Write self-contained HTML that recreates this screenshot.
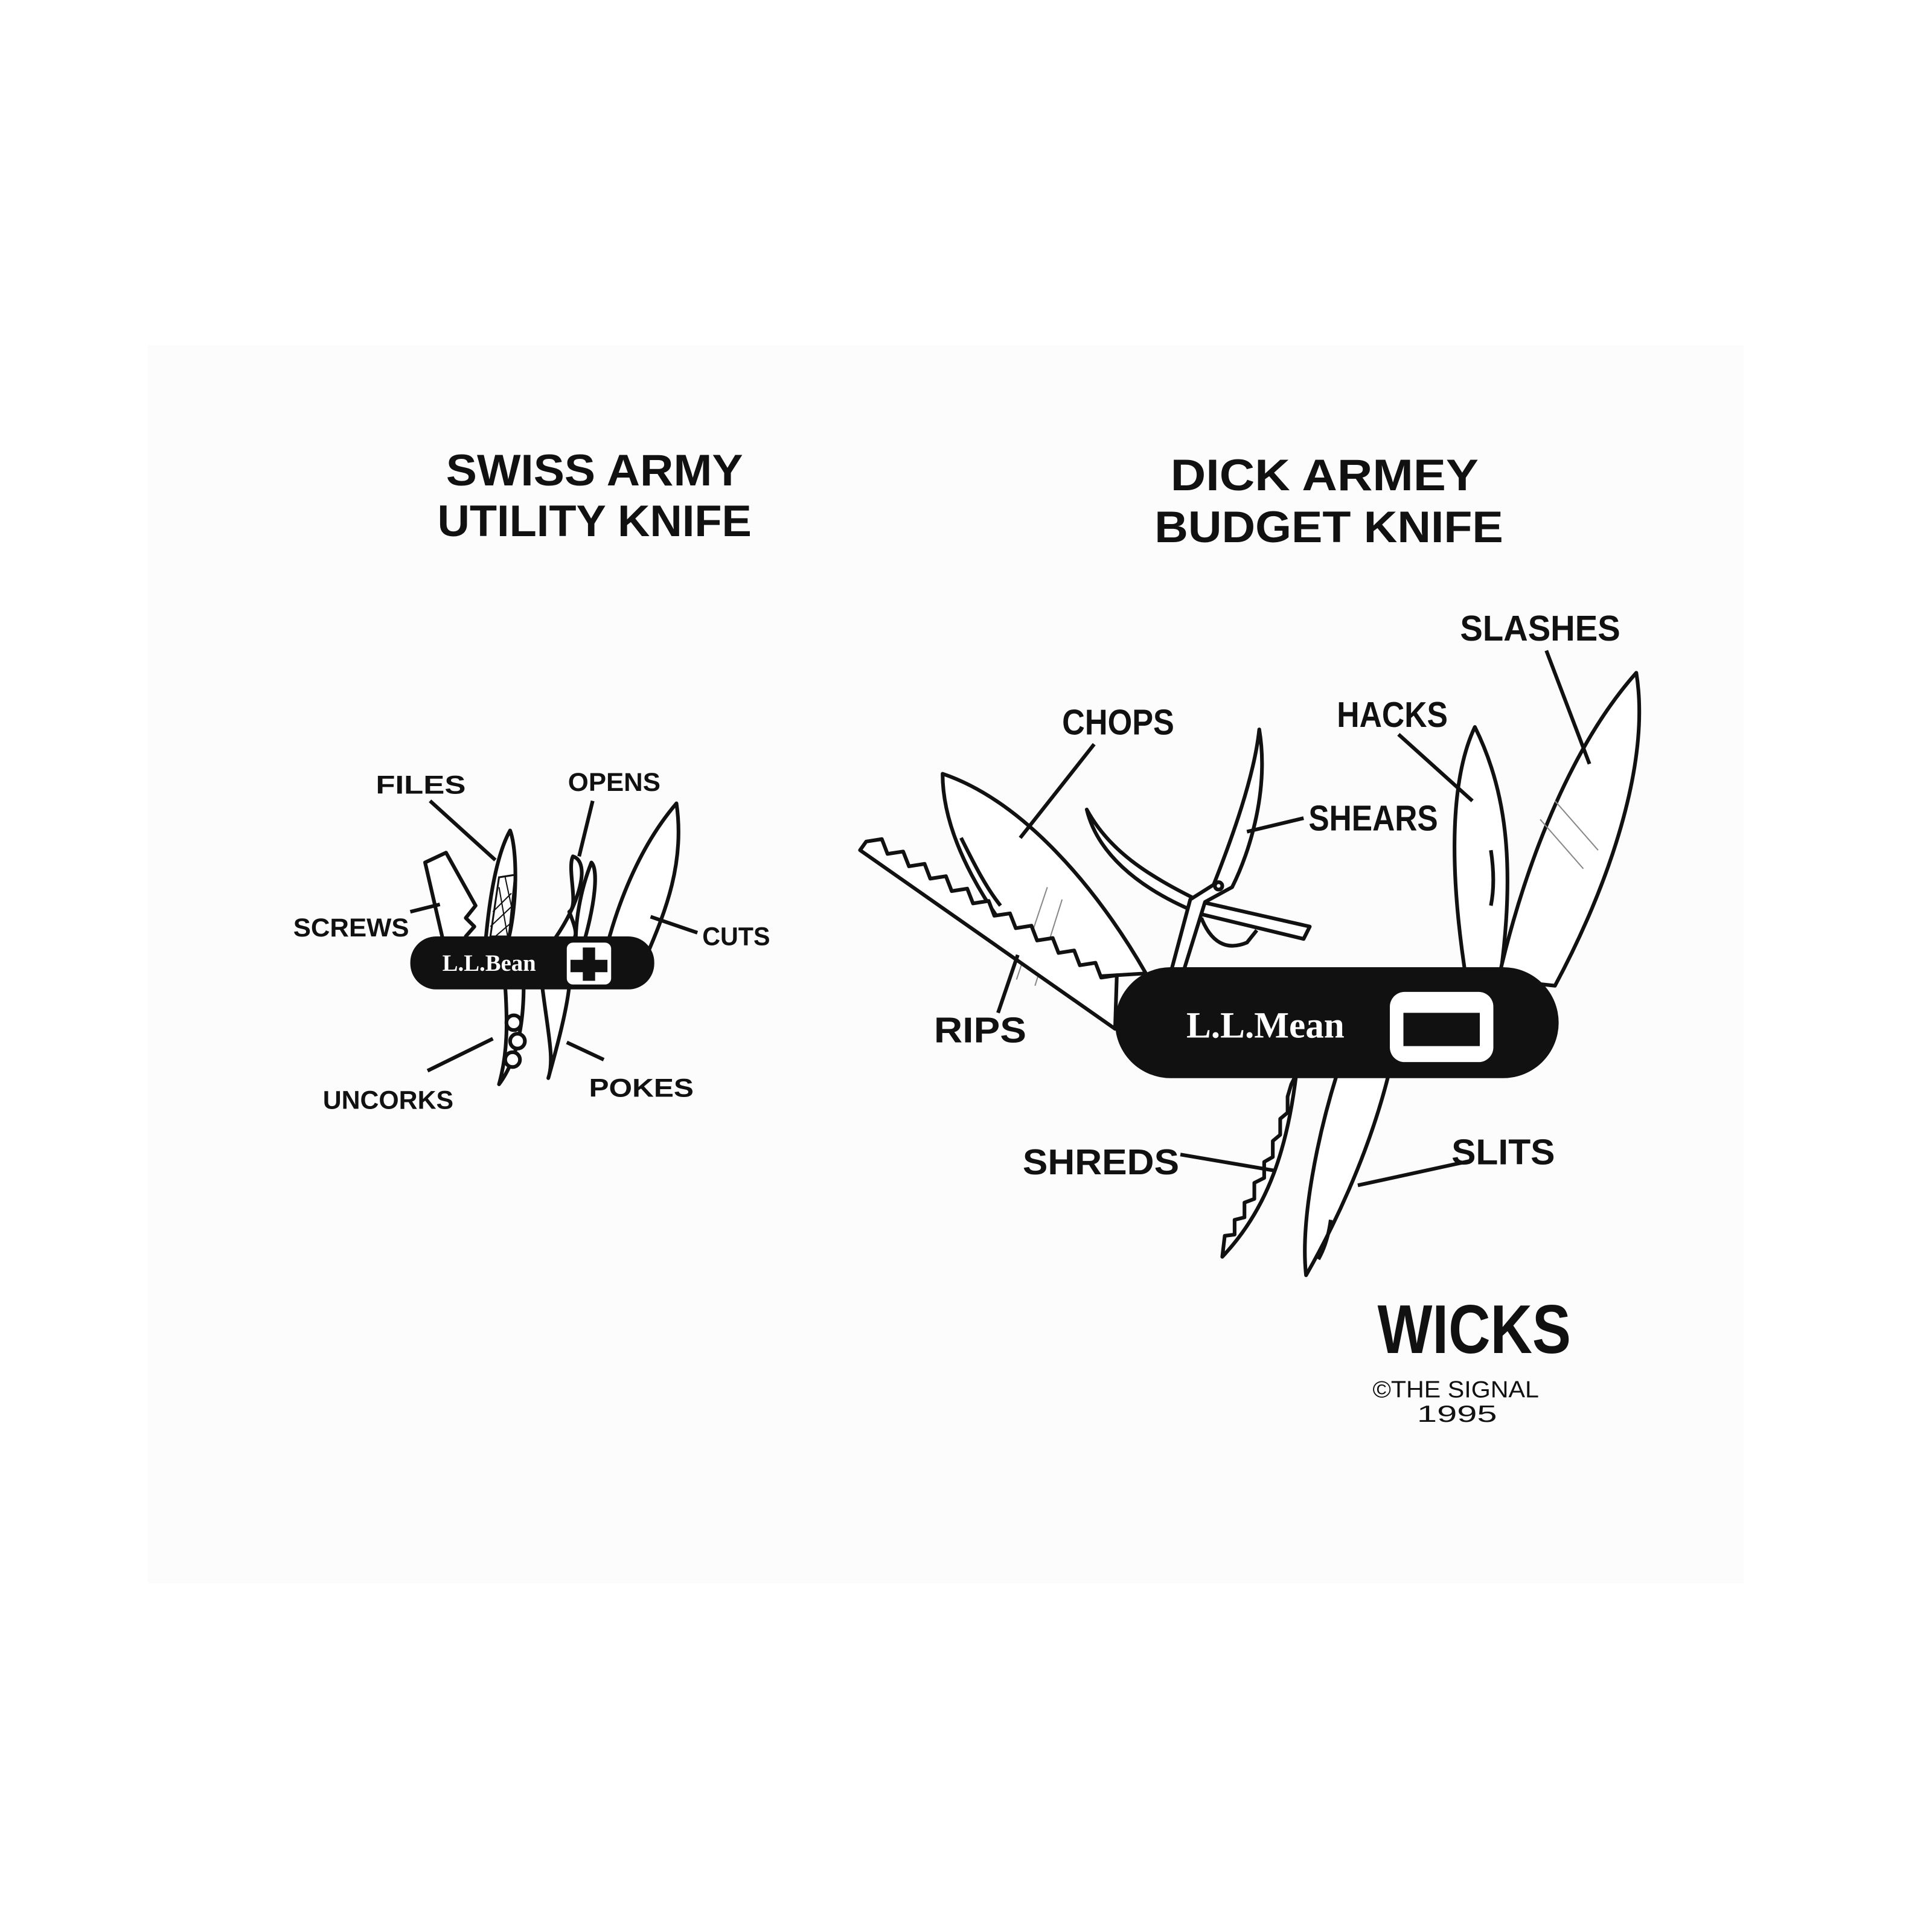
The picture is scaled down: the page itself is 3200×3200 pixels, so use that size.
<!DOCTYPE html>
<html><head><meta charset="utf-8"><style>
html,body{margin:0;padding:0;background:#fff}
svg{display:block}
.t{font-family:"Liberation Sans",sans-serif;font-weight:bold;fill:#111}
.s{fill:#fff;stroke:#111;stroke-width:3;stroke-linejoin:round}
.l{fill:none;stroke:#111;stroke-width:3}
</style></head><body>
<svg width="3200" height="3200" viewBox="0 0 1568 1568" xmlns="http://www.w3.org/2000/svg">
<rect x="0" y="0" width="1568" height="1568" fill="#fff"/>
<rect x="120" y="280" width="1295" height="1005" fill="#fcfcfc"/>
<!-- titles -->
<text class="t" x="362" y="394" font-size="36" textLength="241" lengthAdjust="spacingAndGlyphs">SWISS ARMY</text>
<text class="t" x="355" y="435" font-size="36" textLength="255" lengthAdjust="spacingAndGlyphs">UTILITY KNIFE</text>
<text class="t" x="950" y="398" font-size="36" textLength="250" lengthAdjust="spacingAndGlyphs">DICK ARMEY</text>
<text class="t" x="937" y="440" font-size="36" textLength="283" lengthAdjust="spacingAndGlyphs">BUDGET KNIFE</text>

<!-- SMALL KNIFE -->
<path class="s" d="M360,765 L345,700 L362,692 L386,735 L378,745 L385,752 L378,760 L380,765 Z"/>
<path class="s" d="M394,765 C398,720 405,690 414,674 C420,690 420,735 412,765 Z"/>
<path d="M398,760 L405,712 L418,710 L413,760 Z" fill="none" stroke="#111" stroke-width="1.5"/>
<path d="M400,740 L415,725 M398,752 L416,735 M402,760 L416,748 M405,720 L412,760 M410,712 L416,740" stroke="#111" stroke-width="1"/>
<path class="s" d="M448,765 C470,735 480,700 465,695 C460,705 470,735 462,740 C470,760 470,765 452,765 Z"/>
<path class="s" d="M492,770 C505,720 525,680 549,652 C556,700 540,740 525,775 Z"/>
<path class="s" d="M470,778 C485,730 485,705 480,700 C472,720 465,750 468,778 Z"/>
<path class="s" d="M440,800 C445,840 450,860 445,875 C452,850 460,820 462,800 Z"/>
<path class="s" d="M410,800 C412,830 412,855 405,880 C420,860 425,830 425,800 Z"/>
<circle cx="417" cy="830" r="6" class="s" stroke-width="2.5"/>
<circle cx="420" cy="845" r="6" class="s" stroke-width="2.5"/>
<circle cx="416" cy="860" r="6" class="s" stroke-width="2.5"/>
<rect x="333" y="760" width="198" height="43" rx="21" fill="#111"/>
<text x="397" y="788" font-family="Liberation Serif,serif" font-weight="bold" font-size="19" fill="#fff" text-anchor="middle">L.L.Bean</text>
<rect x="460" y="765" width="36" height="34" rx="5" fill="#fff"/>
<path d="M473,769 h10 v10 h10 v10 h-10 v7 h-10 v-7 h-10 v-10 h10 z" fill="#111"/>
<text class="t" x="305" y="644" font-size="21" textLength="73" lengthAdjust="spacingAndGlyphs">FILES</text>
<path class="l" d="M349,650 L402,698"/>
<text class="t" x="461" y="642" font-size="21" textLength="75" lengthAdjust="spacingAndGlyphs">OPENS</text>
<path class="l" d="M481,650 L470,695"/>
<text class="t" x="238" y="760" font-size="21" textLength="94" lengthAdjust="spacingAndGlyphs">SCREWS</text>
<path class="l" d="M333,740 L357,734"/>
<text class="t" x="570" y="767" font-size="21" textLength="55" lengthAdjust="spacingAndGlyphs">CUTS</text>
<path class="l" d="M528,744 L566,757"/>
<text class="t" x="262" y="900" font-size="21" textLength="106" lengthAdjust="spacingAndGlyphs">UNCORKS</text>
<path class="l" d="M347,869 L400,843"/>
<text class="t" x="478" y="890" font-size="21" textLength="85" lengthAdjust="spacingAndGlyphs">POKES</text>
<path class="l" d="M460,846 L490,860"/>

<!-- BIG KNIFE -->
<path class="s" d="M930,790 C890,720 830,650 765,628 C765,680 800,740 850,795 Z"/>
<path d="M780,680 C790,700 800,720 812,735" class="l" stroke-width="2"/>
<path d="M825,795 L850,720 M840,800 L862,730" stroke="#888" stroke-width="1"/>
<!-- saw -->
<path class="s" d="M905,835 L698,690 L703,683 L715.7,681 L720.3,693 L733,691.1 L737.7,703.1 L750.4,701.1 L755,713.1 L767.7,711.1 L772.4,723.2 L785,721.2 L789.7,733.2 L802.4,731.2 L807,743.2 L819.7,741.3 L824.4,753.3 L837.1,751.3 L841.7,763.3 L854.4,761.3 L859.1,773.4 L871.8,771.4 L876.4,783.4 L889.1,781.4 L893.7,793.4 L906.4,791.5 Z"/>
<!-- shears -->
<path class="s" d="M882,657 C900,690 930,710 975,732 L1063,752 L1058,762 L975,742 C920,720 890,690 882,657 Z"/>
<path class="s" d="M950,790 L966,730 L985,718 C1000,680 1018,630 1022,592 C1030,640 1015,690 1000,720 L978,732 L960,790 Z"/>
<path class="l" d="M975,745 C985,770 1000,770 1012,765 L1020,755" stroke-width="2.5"/>
<circle cx="989" cy="719" r="3" class="s" stroke-width="1.5"/>
<!-- hacks -->
<path class="s" d="M1190,795 C1175,700 1178,630 1197,590 C1222,640 1230,700 1218,790 Z"/>
<path class="l" d="M1210,690 C1213,710 1212,725 1210,735" stroke-width="2"/>
<!-- slashes -->
<path class="s" d="M1216,795 C1240,690 1280,600 1328,546 C1340,620 1305,720 1262,800 Z"/>
<path d="M1250,665 L1285,705 M1262,650 L1297,690" stroke="#888" stroke-width="1"/>
<!-- shreds -->
<path class="s" d="M1052,872 C1045,930 1030,980 992,1020 L994,1003 L1002,1002 L1002,990 L1010,988 L1010,976 L1018,973 L1018,960 L1026,956 L1026,943 L1033,939 L1033,926 L1039,921 L1039,908 L1045,903 L1045,890 L1048,880 Z"/>
<!-- slits -->
<path class="s" d="M1085,872 C1070,920 1055,990 1060,1035 C1080,1000 1110,940 1127,872 Z"/>
<path class="l" d="M1080,990 C1078,1005 1074,1015 1070,1022" stroke-width="2"/>
<!-- handle -->
<rect x="905" y="785" width="360" height="90" rx="45" fill="#111"/>
<text x="1027" y="842" font-family="Liberation Serif,serif" font-weight="bold" font-size="30" fill="#fff" text-anchor="middle">L.L.Mean</text>
<rect x="1128" y="805" width="84" height="57" rx="12" fill="#fff"/>
<rect x="1139" y="822" width="62" height="27" fill="#111"/>
<!-- labels -->
<text class="t" x="862" y="596" font-size="29" textLength="91" lengthAdjust="spacingAndGlyphs">CHOPS</text>
<path class="l" d="M888,604 L828,680"/>
<text class="t" x="1085" y="590" font-size="29" textLength="90" lengthAdjust="spacingAndGlyphs">HACKS</text>
<path class="l" d="M1135,596 L1195,650"/>
<text class="t" x="1185" y="520" font-size="29" textLength="130" lengthAdjust="spacingAndGlyphs">SLASHES</text>
<path class="l" d="M1255,528 L1290,620"/>
<text class="t" x="1062" y="674" font-size="29" textLength="105" lengthAdjust="spacingAndGlyphs">SHEARS</text>
<path class="l" d="M1058,664 L1012,675"/>
<text class="t" x="758" y="846" font-size="29" textLength="75" lengthAdjust="spacingAndGlyphs">RIPS</text>
<path class="l" d="M810,822 L826,775"/>
<text class="t" x="830" y="953" font-size="29" textLength="127" lengthAdjust="spacingAndGlyphs">SHREDS</text>
<path class="l" d="M958,937 L1034,950"/>
<text class="t" x="1178" y="945" font-size="29" textLength="84" lengthAdjust="spacingAndGlyphs">SLITS</text>
<path class="l" d="M1194,942 L1102,962"/>
<!-- signature -->
<text x="1118" y="1098" font-family="Liberation Sans,sans-serif" font-weight="bold" font-size="56" fill="#111" textLength="157" lengthAdjust="spacingAndGlyphs">WICKS</text>
<text x="1114" y="1134" font-family="Liberation Sans,sans-serif" font-size="19" fill="#111" textLength="135" lengthAdjust="spacingAndGlyphs">©THE SIGNAL</text>
<text x="1150" y="1154" font-family="Liberation Sans,sans-serif" font-size="19" fill="#111" textLength="65" lengthAdjust="spacingAndGlyphs">1995</text>
</svg>
</body></html>
